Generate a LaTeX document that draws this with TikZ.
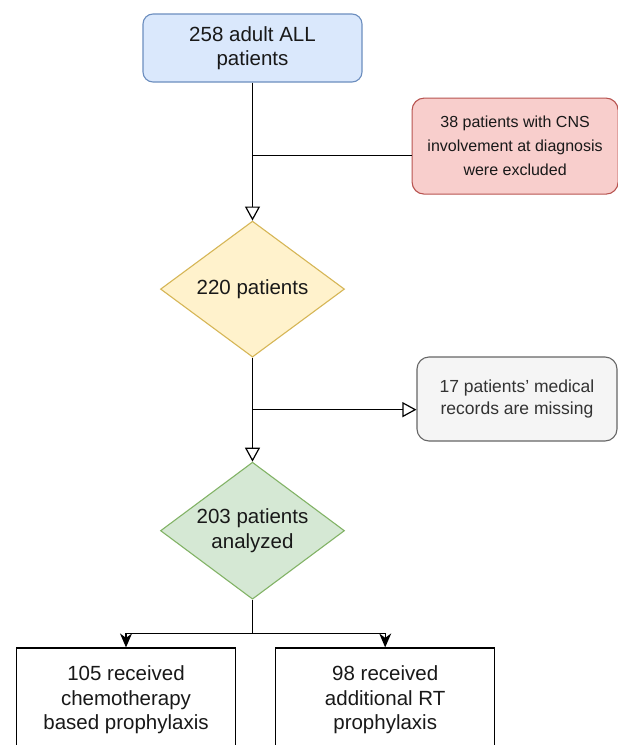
\documentclass[tikz,border=0pt]{standalone}
\usepackage{fontspec}
\setmainfont{Liberation Sans}
\usepackage{tikz}
\usetikzlibrary{shapes.geometric,arrows.meta,positioning,calc}

\definecolor{bluefill}{HTML}{DAE8FC}
\definecolor{blueline}{HTML}{6C8EBF}
\definecolor{redfill}{HTML}{F8CECC}
\definecolor{redline}{HTML}{B85450}
\definecolor{yellowfill}{HTML}{FFF2CC}
\definecolor{yellowline}{HTML}{D6B656}
\definecolor{greenfill}{HTML}{D5E8D4}
\definecolor{greenline}{HTML}{82B366}
\definecolor{grayfill}{HTML}{F5F5F5}
\definecolor{grayline}{HTML}{666666}
\definecolor{graytext}{HTML}{333333}

\tikzset{
	bigtext/.style={font=\fontsize{20.5}{24.5}\selectfont, align=center, text=black!90},
	bluebox/.style={bigtext, draw=blueline, fill=bluefill, line width=1.1pt, rounded corners=10pt, minimum width=219pt, minimum height=68pt},
	redbox/.style={font=\fontsize{16}{24}\selectfont, align=center, text=black!90, draw=redline, fill=redfill, line width=1.1pt, rounded corners=12pt, minimum width=206pt, minimum height=96pt},
	graybox/.style={font=\fontsize{17.5}{22}\selectfont, align=center, text=graytext, draw=grayline, fill=grayfill, line width=1.1pt, rounded corners=12pt, minimum width=200pt, minimum height=84pt},
	yellowdia/.style={bigtext, diamond, aspect=1.34, draw=yellowline, fill=yellowfill, line width=1.1pt, inner sep=-2pt, minimum width=184pt, minimum height=136pt},
	greendia/.style={bigtext, diamond, aspect=1.34, draw=greenline, fill=greenfill, line width=1.1pt, inner sep=-2pt, minimum width=184pt, minimum height=137pt},
	whitebox/.style={bigtext, draw=black, fill=white, line width=1.2pt, minimum width=219pt, minimum height=100pt, text depth=0pt},
	flow/.style={draw=black, line width=1.2pt},
	openhead/.style={-{Triangle[open,length=14pt,width=15pt,line width=1.2pt]}},
	solidhead/.style={-{Stealth[length=14pt,width=12pt,inset=4.5pt]}}
}

\begin{document}
\begin{tikzpicture}[x=1pt,y=-1pt]
	\useasboundingbox[fill=white] (0,0) rectangle (618,745);
	
	\node(start) [bluebox] at (252.5,48) {258 adult ALL\\patients};
	\node(excl) [redbox, below right=15pt and 49pt of start] {38 patients with CNS\\involvement at diagnosis\\were excluded};
	\node(d1) [yellowdia, below=138pt of start] {220 patients};
	\node(d2) [greendia, below=104pt of d1] {203 patients\\analyzed};
	\node(missing) [graybox] at (517,399) {17 patients' medical\\records are missing};
	\node(chemo) [whitebox] at (126,698) {105 received\\chemotherapy\\based prophylaxis};
	\node(rt) [whitebox, right=39pt of chemo] {98 received\\additional RT\\prophylaxis};
	
	\coordinate(j1) at ($(start.south)+(0,73)$);
	\coordinate(j2) at ($(d1.south)+(0,52)$);
	\coordinate(split) at ($(d2.south)+(0,34)$);
	
	\draw[flow, openhead] (start) --(d1);
	\draw[flow] (j1) --(j1 -| excl.west);
	\draw[flow, openhead] (d1) --(d2);
	\draw[flow, openhead] (j2) --(j2 -| missing.west);
	\draw[flow] (d2.south) --(split);
	\draw[flow, solidhead] (split) -| (chemo.north);
	\draw[flow, solidhead] (split) -| (rt.north);
\end{tikzpicture}
\end{document}
